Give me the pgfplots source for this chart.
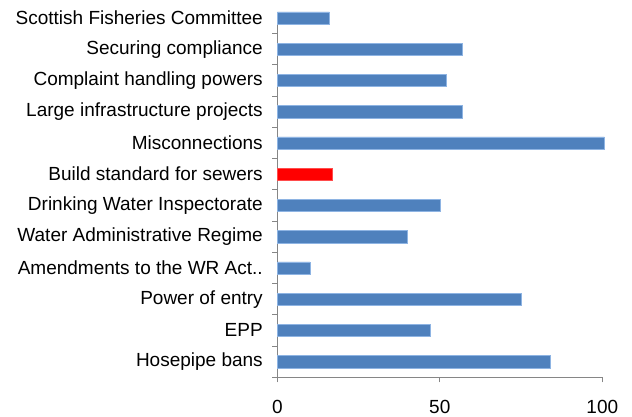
\documentclass[border=0pt]{standalone}
\usepackage{pgfplots}
\pgfplotsset{compat=1.18}
\usepackage{fontspec}
\setmainfont{Liberation Sans}
\definecolor{barblue}{HTML}{4F81BD}
\definecolor{baredge}{HTML}{8EB4E3}
\definecolor{axgray}{HTML}{868686}
\begin{document}
\begin{tikzpicture}[x=1pt,y=1pt]
\path[use as bounding box] (0,0) rectangle (632,416);
\begin{axis}[
  at={(277.3pt,38.7pt)}, anchor=south west,
  scale only axis, width=325pt, height=365.6pt,
  xmin=0, xmax=100, ymin=-0.5, ymax=11.2,
  xbar, bar width=12.3pt, bar shift=0pt,
  clip=false,
  axis x line*=bottom, axis y line*=left,
  axis line style={draw=axgray, line width=0.8pt},
  tick style={draw=axgray, line width=0.8pt},
  tick align=outside, major tick length=5pt,
  xtick={0,50,100},
  /pgf/number format/assume math mode=true,
  ticklabel style={font=\fontsize{19}{22}\selectfont},
  xticklabel style={yshift=-14pt},
  ytick={-0.5,0.5,1.5,2.5,3.5,4.5,5.5,6.5,7.5,8.5,9.5,10.5}, yticklabels={},
  extra y ticks={0,1,2,3,4,5,6,7,8,9,10,11},
  extra y tick labels={Hosepipe bans,EPP,Power of entry,Amendments to the WR Act..,Water Administrative Regime,Drinking Water Inspectorate,Build standard for sewers,Misconnections,Large infrastructure projects,Complaint handling powers,Securing compliance,Scottish Fisheries Committee},
  extra y tick style={tick style={draw=none}, yticklabel style={xshift=-6pt}},
]
\addplot[fill=barblue, draw=baredge, line width=0.5pt] coordinates {
(84,0) (47,1) (75,2) (10,3) (40,4) (50,5) (100.6,7) (57,8) (52,9) (57,10) (16,11)};
\addplot[fill=red, draw=red!70, line width=0.5pt] coordinates {(17,6)};
\end{axis}
\end{tikzpicture}
\end{document}
